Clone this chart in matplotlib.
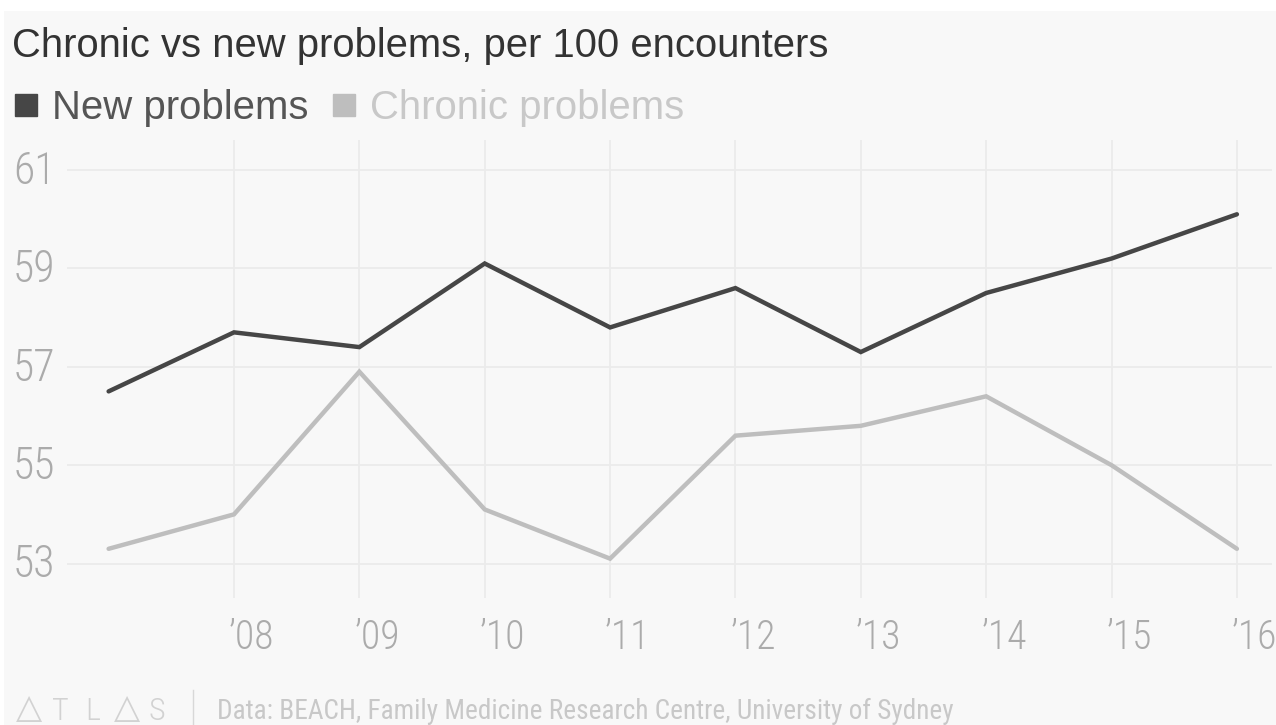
import matplotlib
matplotlib.use("Agg")
import matplotlib.pyplot as plt
from matplotlib.lines import Line2D
from matplotlib.patches import Rectangle
from matplotlib.transforms import ScaledTranslation
from matplotlib import font_manager as fm

years = [2007, 2008, 2009, 2010, 2011, 2012, 2013, 2014, 2015, 2016]
new_problems = [56.5, 57.7, 57.4, 59.1, 57.8, 58.6, 57.3, 58.5, 59.2, 60.1]
chronic_problems = [53.3, 54.0, 56.9, 54.1, 53.1, 55.6, 55.8, 56.4, 55.0, 53.3]
xtick_years = [2008, 2009, 2010, 2011, 2012, 2013, 2014, 2015, 2016]
xtick_labels = ["’08", "’09", "’10", "’11", "’12", "’13", "’14", "’15", "’16"]
yticks = [53, 55, 57, 59, 61]

# pick a narrow font that is actually installed
have = set(f.name for f in fm.fontManager.ttflist)
narrow = "DejaVu Sans"
for name in ["Roboto Condensed", "Liberation Sans Narrow", "Archivo Narrow",
             "PT Sans Narrow", "Pragati Narrow", "Barlow Semi Condensed"]:
    if name in have:
        narrow = name
        break

W, H = 1276, 725
bg = "#f8f8f8"
c_new = "#464646"
c_chr = "#bebebe"
c_tick = "#ababab"

fig = plt.figure(figsize=(W / 100, H / 100), dpi=100, facecolor="white")
# grey panel (white margin at top and left like the screenshot)
fig.add_artist(Rectangle((4 / W, 0), 1, 1 - 11 / H, transform=fig.transFigure,
                         facecolor=bg, edgecolor="none", zorder=-10))

ax = fig.add_axes([67 / W, 1 - 598 / H, (1272 - 67) / W, (598 - 140) / H])
ax.set_facecolor("none")

ax.plot(years, chronic_problems, color=c_chr, lw=3.2, solid_capstyle="round",
        solid_joinstyle="miter", zorder=3)
ax.plot(years, new_problems, color=c_new, lw=3.2, solid_capstyle="round",
        solid_joinstyle="miter", zorder=4)

ax.set_xlim(2006.668, 2016.28)
ax.set_ylim(52.30, 61.61)

ax.set_xticks(xtick_years)
ax.set_xticklabels(xtick_labels)
ax.set_yticks(yticks)
ax.set_yticklabels([str(v) for v in yticks])

ax.grid(True, color="#ebebeb", lw=1.3)
ax.set_axisbelow(True)
for s in ax.spines.values():
    s.set_visible(False)
ax.tick_params(length=0)
ax.tick_params(axis="y", pad=39, labelsize=31.5, labelcolor=c_tick)
ax.tick_params(axis="x", pad=15, labelsize=28.5, labelcolor=c_tick)
up = ScaledTranslation(0, 3 / 100, fig.dpi_scale_trans)
left = ScaledTranslation(-5 / 100, 0, fig.dpi_scale_trans)
for lab in ax.get_yticklabels():
    lab.set_fontfamily(narrow)
    lab.set_fontweight("light")
    lab.set_horizontalalignment("left")
    lab.set_transform(lab.get_transform() + up)
for lab in ax.get_xticklabels():
    lab.set_fontfamily(narrow)
    lab.set_fontweight("light")
    lab.set_horizontalalignment("left")
    lab.set_transform(lab.get_transform() + left)

# title
fig.text(12 / W, 1 - 57 / H, "Chronic vs new problems, per 100 encounters",
         fontsize=28.8, color="#333333", family="Liberation Sans", va="baseline")

# legend
handles = [Line2D([], [], ls="none", marker="s", markersize=16.5, color=c_new),
           Line2D([], [], ls="none", marker="s", markersize=16.5, color=c_chr)]
leg = fig.legend(handles, ["New problems", "Chronic problems"], ncol=2,
                 loc="upper left", bbox_to_anchor=(14 / W, 1 - 89 / H),
                 frameon=False, handlelength=0.58, handletextpad=0.37,
                 columnspacing=0.58, borderpad=0, borderaxespad=0,
                 prop={"family": "Liberation Sans", "size": 28.9})
leg.get_texts()[0].set_color("#555555")
leg.get_texts()[1].set_color("#c8c8c8")

# footer: ATLAS logo, separator, source
logo_c = "#d2d2d2"
tri_fams = ["DejaVu Sans", "Noto Sans CJK SC", "Noto Sans"]
for ch, x in [("△", 16), ("T", 52), ("L", 85), ("△", 114), ("S", 149)]:
    if ch == "△":
        fig.text(x / W, 1 - 718 / H, ch, fontsize=24.5, color=logo_c,
                 family=tri_fams, va="baseline")
    else:
        fig.text(x / W, 1 - 720 / H, ch, fontsize=23, color=logo_c,
                 family=[narrow, "DejaVu Sans"], fontweight="light", va="baseline")
fig.add_artist(Line2D([193 / W, 193 / W], [1 - 725 / H, 1 - 690 / H],
                      transform=fig.transFigure, color="#d8d8d8", lw=1))
fig.text(217 / W, 1 - 719 / H,
         "Data: BEACH, Family Medicine Research Centre, University of Sydney",
         fontsize=19.6, color="#c8c8c8", family=narrow, va="baseline")

fig.savefig("out.png", dpi=100, facecolor=fig.get_facecolor())
